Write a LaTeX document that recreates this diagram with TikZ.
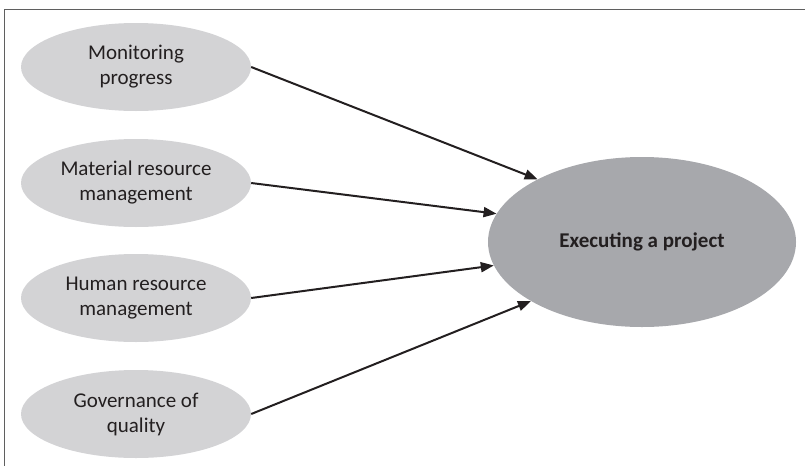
\documentclass[tikz,border=0pt]{standalone}
\usepackage{fontspec}
\setmainfont{Carlito}
\usetikzlibrary{shapes.geometric,arrows.meta}
\definecolor{smallfill}{RGB}{211,211,213}
\definecolor{bigfill}{RGB}{167,168,172}
\definecolor{inkc}{RGB}{35,31,32}
\definecolor{framec}{RGB}{95,95,95}
\tikzset{
  smallell/.style={ellipse, fill=smallfill, draw=none, minimum width=230pt, minimum height=88pt, inner sep=0pt, align=center, text=inkc, font=\fontsize{21}{25}\selectfont},
  bigell/.style={ellipse, fill=bigfill, draw=none, minimum width=308pt, minimum height=170pt, inner sep=0pt, align=center, text=inkc, font=\fontsize{21}{25}\selectfont\bfseries},
  conn/.style={draw=inkc, line width=2pt, -{Triangle[length=13pt,width=10pt]}},
  framel/.style={draw=framec, line width=1.5pt}
}
\begin{document}
\begin{tikzpicture}[x=1pt,y=-1pt]
\useasboundingbox (0,0) rectangle (805,466);
\coordinate (ftr) at (805,9.3);
\coordinate (ftl) at (4.5,9.3);
\coordinate (fbl) at (4.5,466);
\draw[framel] (ftr) -- (ftl) -- (fbl);
\node[smallell] (mon) at (136,67) {Monitoring\\progress};
\node[smallell] (mat) at (136,183) {Material resource\\management};
\node[smallell] (hum) at (136,298) {Human resource\\management};
\node[smallell] (gov) at (136,414) {Governance of\\quality};
\node[bigell] (exe) at (642,242) {Executing a project};
\draw[conn] (mon.east) -- (exe.149.6);
\draw[conn] (mat.east) -- (exe.169.6);
\draw[conn] (hum.east) -- (exe.189.3);
\draw[conn] (gov.east) -- (exe.208);
\end{tikzpicture}
\end{document}
